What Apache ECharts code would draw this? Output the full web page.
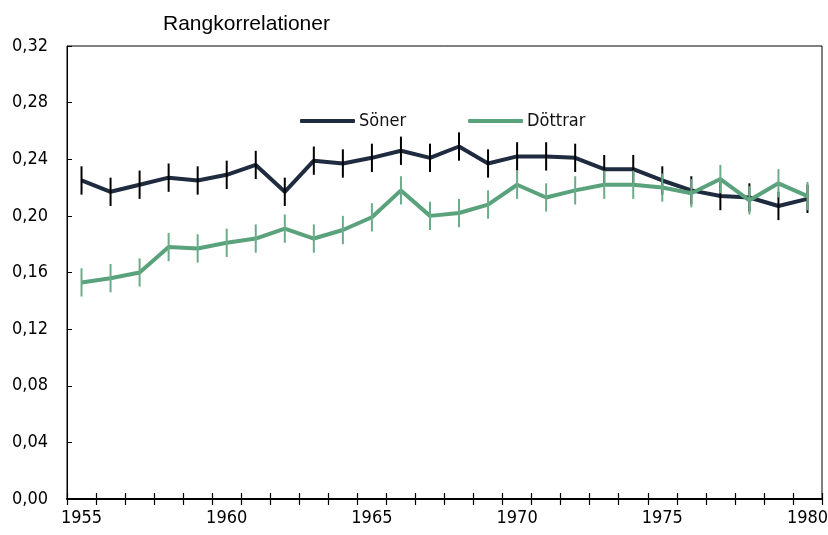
<!DOCTYPE html>
<html>
<head>
<meta charset="utf-8">
<script src="https://cdn.jsdelivr.net/npm/echarts@6/dist/echarts.min.js"></script>
<style>
  html, body { margin: 0; padding: 0; background: #fff; }
  #chart { width: 828px; height: 535px; }
</style>
</head>
<body>
<div id="chart"></div>
<script>
// årtal
const years = [];
for (let y = 1955; y <= 1980; y++) years.push(String(y));

// rangkorrelationer, söner
const soner = [0.225, 0.217, 0.222, 0.227, 0.225, 0.229, 0.236, 0.217, 0.239, 0.237,
  0.241, 0.246, 0.241, 0.249, 0.237, 0.242, 0.242, 0.241, 0.233, 0.233,
  0.225, 0.218, 0.214, 0.213, 0.207, 0.212];
// rangkorrelationer, döttrar
const dottrar = [0.153, 0.156, 0.160, 0.178, 0.177, 0.181, 0.184, 0.191, 0.184, 0.190,
  0.199, 0.218, 0.200, 0.202, 0.208, 0.222, 0.213, 0.218, 0.222, 0.222,
  0.220, 0.216, 0.226, 0.211, 0.223, 0.214];
// felmarginaler (+/-)
const sonerErr = [0.010, 0.010, 0.010, 0.010, 0.010, 0.010, 0.010, 0.010, 0.010, 0.010,
  0.010, 0.010, 0.010, 0.010, 0.010, 0.010, 0.010, 0.010, 0.010, 0.010,
  0.010, 0.010, 0.010, 0.010, 0.010, 0.010];
const dottrarErr = [0.010, 0.010, 0.010, 0.010, 0.010, 0.010, 0.010, 0.010, 0.010, 0.010,
  0.010, 0.010, 0.010, 0.010, 0.010, 0.010, 0.010, 0.010, 0.010, 0.010,
  0.010, 0.010, 0.010, 0.010, 0.010, 0.010];

const FONT = '"Liberation Sans Narrow", "DejaVu Sans Condensed", "Liberation Sans", sans-serif';

const chart = echarts.init(document.getElementById('chart'));

// felstaplar som custom-serie
function errData(vals, errs) {
  return vals.map((v, i) => [i, v - errs[i], v + errs[i]]);
}
function errRender(color) {
  return function (params, api) {
    const lo = api.coord([api.value(0), api.value(1)]);
    const hi = api.coord([api.value(0), api.value(2)]);
    return {
      type: 'line',
      shape: { x1: lo[0], y1: lo[1], x2: hi[0], y2: hi[1] },
      style: { stroke: color, lineWidth: 2 }
    };
  };
}

const option = {
  animation: false,
  backgroundColor: '#fff',
  title: {
    text: 'Rangkorrelationer',
    left: 158,
    top: 9,
    textStyle: { fontFamily: '"Liberation Sans", Arial, sans-serif', fontWeight: 'normal', fontSize: 21, color: '#000' }
  },
  legend: {
    data: ['Söner', 'Döttrar'],
    left: 300,
    top: 112,
    padding: 0,
    icon: 'roundRect',
    itemWidth: 55,
    itemHeight: 4,
    itemGap: 62,
    textStyle: { fontFamily: FONT, fontSize: 18, color: '#111', padding: [0, 0, 0, -1] }
  },
  grid: {
    left: 67, right: 6, top: 46, bottom: 36,
    show: true, borderColor: '#000', borderWidth: 1,
    outerBoundsMode: 'none'
  },
  xAxis: [{
    type: 'category',
    data: years,
    boundaryGap: true,
    axisLine: { lineStyle: { color: '#000', width: 2 } },
    axisTick: { show: true, alignWithLabel: false, inside: false, length: 6, interval: 0, lineStyle: { color: '#000', width: 1.2 } },
    axisLabel: {
      interval: 4, margin: 10,
      fontFamily: FONT, fontSize: 18, color: '#000'
    },
    splitLine: { show: false }
  }, {
    // ticks på insidan, så att de korsar axeln
    type: 'category',
    data: years,
    position: 'bottom',
    boundaryGap: true,
    axisLine: { show: false },
    axisTick: { show: true, alignWithLabel: false, inside: true, length: 6, interval: 0, lineStyle: { color: '#000', width: 1.2 } },
    axisLabel: { show: false },
    splitLine: { show: false }
  }],
  yAxis: {
    type: 'value',
    min: 0, max: 0.32, interval: 0.04,
    axisLine: { show: true, lineStyle: { color: '#000', width: 1 } },
    axisTick: { show: true, inside: true, length: 5, lineStyle: { color: '#000' } },
    axisLabel: {
      margin: 19,
      fontFamily: FONT, fontSize: 18, color: '#000',
      formatter: v => v.toFixed(2).replace('.', ',')
    },
    splitLine: { show: false }
  },
  series: [
    {
      name: 'Söner', type: 'line', data: soner,
      symbol: 'none', color: '#1f2b3f',
      lineStyle: { width: 4, color: '#1f2b3f' }, z: 2
    },
    {
      name: 'sonerErr', type: 'custom', data: errData(soner, sonerErr),
      renderItem: errRender('#000'), encode: { x: 0, y: [1, 2] }, z: 3
    },
    {
      name: 'Döttrar', type: 'line', data: dottrar,
      symbol: 'none', color: '#5aa27b',
      lineStyle: { width: 4, color: '#5aa27b' }, z: 4
    },
    {
      name: 'dottrarErr', type: 'custom', data: errData(dottrar, dottrarErr),
      renderItem: errRender('#6aac88'), encode: { x: 0, y: [1, 2] }, z: 5
    }
  ]
};

chart.setOption(option);
</script>
</body>
</html>
